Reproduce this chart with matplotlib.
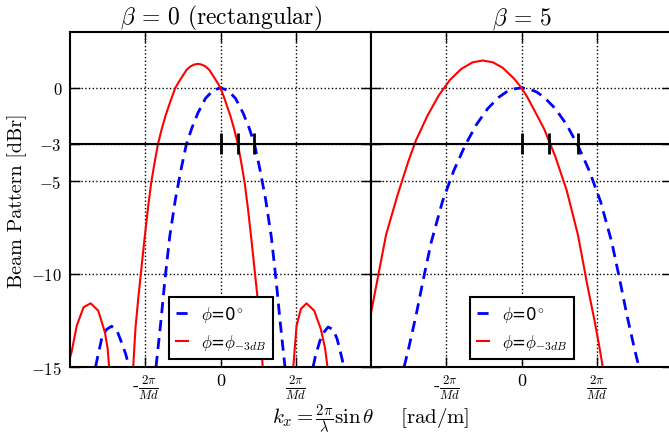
import matplotlib
matplotlib.use("Agg")
import matplotlib.pyplot as plt
import numpy as np

plt.rcParams['font.family'] = 'cmr10'
plt.rcParams['mathtext.fontset'] = 'cm'
plt.rcParams['axes.unicode_minus'] = False
plt.rcParams['lines.scale_dashes'] = False

nan = np.nan

# x in units of 2*pi/(M d), y in dBr
# beta = 0 (rectangular)
rect_blue_u = [-1.66, -1.634, -1.58, -1.52, -1.448, -1.38, -1.316, -1.26, -1.214, nan,
               -0.857, -0.82, -0.786, -0.742, -0.675, -0.6, -0.52, -0.455, -0.38, -0.3, -0.2, -0.1, 0.0,
               0.1, 0.2, 0.3, 0.38, 0.45, 0.52, 0.6, 0.675, 0.742, 0.786, 0.82, 0.857, nan,
               1.23, 1.258, 1.32, 1.38, 1.43, 1.5, 1.55, 1.6, 1.64]
rect_blue_db = [-15.0, -14.48, -13.5, -13.0, -12.81, -13.0, -13.67, -14.3, -15.0, nan,
                -15.0, -13.6, -12.3, -10.45, -8.0, -6.0, -4.3, -3.06, -2.15, -1.35, -0.57, -0.14, 0.0,
                -0.14, -0.57, -1.35, -2.15, -3.0, -4.3, -6.0, -8.0, -10.45, -12.3, -13.6, -15.0, nan,
                -15.0, -14.48, -13.6, -13.1, -12.85, -13.0, -13.5, -14.3, -15.0]

rect_red_u = [-2.0, -1.98, -1.91, -1.82, -1.726, -1.625, -1.536, -1.5, -1.48, nan,
              -1.16, -1.13, -1.09, -1.01, -0.965, -0.92, -0.875, -0.83, -0.78, -0.73, -0.66, -0.6,
              -0.55, -0.5, -0.45, -0.4, -0.35, -0.3, -0.25, -0.2, -0.15, -0.1, -0.05, 0.0,
              0.06, 0.13, 0.18, 0.23, 0.275, 0.32, 0.365, 0.41, 0.49, 0.53, 0.56, nan,
              0.967, 1.011, 1.068, 1.143, 1.245, 1.333, 1.39, 1.422]
rect_red_db = [-14.5, -14.21, -12.78, -11.79, -11.58, -11.97, -13.14, -14.0, -15.0, nan,
               -15.0, -12.9, -11.2, -8.12, -6.5, -5.07, -4.0, -3.0, -2.2, -1.49, -0.66, 0.0,
               0.34, 0.66, 0.97, 1.15, 1.25, 1.29, 1.25, 1.15, 0.97, 0.66, 0.34, 0.0,
               -0.66, -1.49, -2.2, -3.0, -4.0, -5.07, -6.5, -8.12, -11.2, -12.9, -15.0, nan,
               -15.0, -12.78, -11.88, -11.58, -11.97, -12.96, -14.0, -15.0]

# beta = 5
kais_blue_u = [-1.56, -1.5, -1.4, -1.3, -1.2, -1.05, -0.9, -0.75, -0.6, -0.45, -0.3, -0.2, -0.1, 0.0,
               0.1, 0.2, 0.3, 0.45, 0.6, 0.75, 0.9, 1.05, 1.2, 1.3, 1.4, 1.5, 1.56]
kais_blue_db = [-15.0, -14.0, -12.2, -10.2, -8.3, -6.1, -4.45, -3.1, -1.98, -1.12, -0.5, -0.22, -0.06, 0.0,
                -0.06, -0.22, -0.5, -1.12, -1.98, -3.1, -4.45, -6.1, -8.3, -10.2, -12.2, -14.0, -15.0]

kais_red_u = [-2.0, -1.9, -1.8, -1.65, -1.5, -1.4, -1.25, -1.1, -0.95, -0.8, -0.65, -0.515, -0.38,
              -0.25, -0.1, 0.0, 0.08, 0.15, 0.3, 0.45, 0.6, 0.75, 0.87, 0.97, 1.03, 1.08]
kais_red_db = [-12.1, -10.0, -7.9, -5.8, -3.9, -2.8, -1.5, -0.41, 0.43, 1.02, 1.37, 1.47, 1.37,
               1.08, 0.5, 0.0, -0.52, -1.05, -2.2, -3.7, -5.5, -7.9, -10.5, -12.5, -13.8, -15.0]

# -3 dB crossing marks
rect_marks = [0.0, 0.23, 0.45]
kais_marks = [0.0, 0.371, 0.746]

titles = [r'$\beta$ = 0 (rectangular)', r'$\beta$ = 5']
yticks = [0, -3, -5, -10, -15]
ytick_labels = ['0', '$-3$', '$-5$', '$-10$', '$-15$']
xticks = [-1, 0, 1]
xtick_labels = [r'-$\frac{2\pi}{Md}$', '0', r'$\frac{2\pi}{Md}$']

fig = plt.figure(figsize=(6.69, 4.35), dpi=100)
ax1 = fig.add_axes([70/669, 67/435, 301/669, 335/435])
ax2 = fig.add_axes([371/669, 67/435, 301/669, 335/435])

panels = [(ax1, rect_blue_u, rect_blue_db, rect_red_u, rect_red_db, rect_marks),
          (ax2, kais_blue_u, kais_blue_db, kais_red_u, kais_red_db, kais_marks)]

for i, (ax, bu, bdb, ru, rdb, marks) in enumerate(panels):
    ax.plot(bu, bdb, color='blue', lw=2, dashes=(8, 5), label=r'$\phi$=0$^{\circ}$')
    ax.plot(ru, rdb, color='red', lw=1.5, label=r'$\phi$=$\phi_{-3dB}$')
    ax.axhline(-3, color='k', lw=1.5)
    ax.vlines(marks, -3.55, -2.45, colors='k', lw=2, zorder=5)
    ax.set_xlim(-2, 2)
    ax.set_ylim(-15, 3)
    ax.set_xticks(xticks)
    ax.set_xticklabels(xtick_labels, fontsize=13)
    ax.set_yticks(yticks)
    if i == 0:
        ax.set_yticklabels(ytick_labels, fontsize=12)
    else:
        ax.set_yticklabels([])
    ax.tick_params(direction='in', length=7, width=1, top=True, right=True, pad=6)
    ax.tick_params(axis='x', pad=4)
    ax.grid(True, linestyle=':', color='k', linewidth=1)
    for s in ax.spines.values():
        s.set_linewidth(1.5)
    ax.set_title(titles[i], fontsize=17, pad=6)
    leg = ax.legend(loc='lower center', bbox_to_anchor=(0.502, 0.024), handlelength=0.7,
                    fancybox=False, edgecolor='k', framealpha=1, borderaxespad=0,
                    prop={'family': 'DejaVu Sans', 'size': 12})
    leg.get_frame().set_linewidth(1.5)

ax1.set_ylabel('Beam Pattern [dBr]', fontsize=14.5, labelpad=3)
fig.text(371/669, 0.025, r'$k_x = \frac{2\pi}{\lambda}\sin\theta$    [rad/m]',
         ha='center', va='baseline', fontsize=15)

fig.savefig('out.png', dpi=100)
